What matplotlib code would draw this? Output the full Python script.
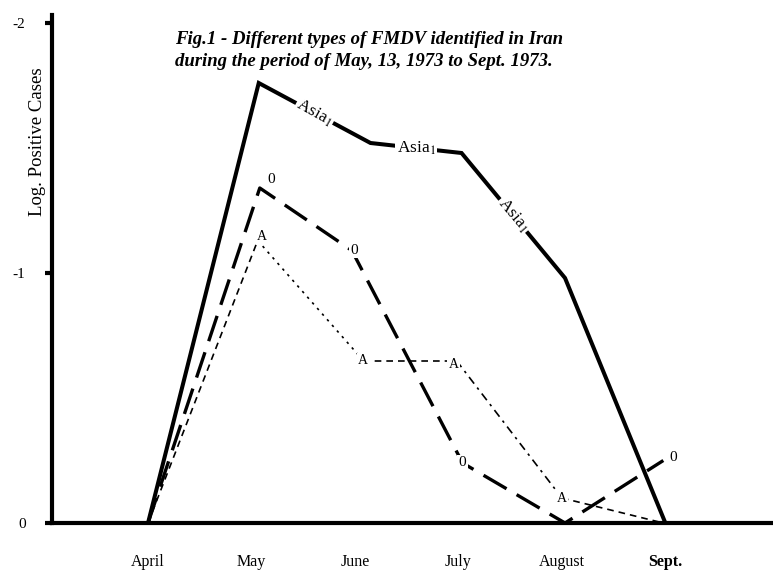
import matplotlib.pyplot as plt

plt.rcParams['font.family'] = ['Liberation Serif', 'DejaVu Serif']
plt.rcParams['mathtext.fontset'] = 'stix'
plt.rcParams['axes.unicode_minus'] = False

# months on the x axis (April = 0)
months = ['April', 'May', 'June', 'July', 'August', 'Sept.']
month_pos = [0, 1, 2, 3, 4, 5]

# Asia 1
asia_x = [0, 1.07, 2.15, 3.03, 4.03, 5.0]
asia_y = [0, -1.76, -1.52, -1.48, -0.98, 0]

# type O
o_x = [0, 1.08, 1.97, 3.04, 4.03, 4.98]
o_y = [0, -1.34, -1.09, -0.24, 0, -0.25]

# type A
a_x = [0, 1.06, 2.08, 2.98, 4.0, 4.98]
a_y = [0, -1.13, -0.65, -0.65, -0.10, 0]

fig = plt.figure(figsize=(7.73, 5.73), dpi=100)
ax = fig.add_axes([52 / 773, 50 / 573, (773 - 52) / 773, (523 - 15) / 573])

# Asia1 - thick solid
ax.plot(asia_x, asia_y, color='black', lw=2.9, solid_joinstyle='miter', zorder=3)
# O - long dashes
ax.plot(o_x, o_y, color='black', lw=2.4, dashes=(8, 3.5), zorder=3)
# A - thin, mixed dash styles per segment
a_styles = [(0, (4, 3)), (0, (1.5, 3)), (0, (4, 3)), (0, (5, 3, 1.5, 3)), (0, (4, 3))]
for i in range(len(a_x) - 1):
    ax.plot(a_x[i:i + 2], a_y[i:i + 2], color='black', lw=1.2,
            linestyle=a_styles[i], zorder=3)

box = dict(facecolor='white', edgecolor='none', pad=1)

# Asia labels in the middle of segments
asia_lbl = [(1, -29), (2, 0), (3, -50)]
for i, rot in asia_lbl:
    mx = (asia_x[i] + asia_x[i + 1]) / 2
    my = (asia_y[i] + asia_y[i + 1]) / 2
    ax.text(mx, my, 'Asia$_1$', fontsize=12.5, rotation=rot, rotation_mode='anchor',
            ha='center', va='center', bbox=box, zorder=5)

# O labels
o_lbl = [(1, 8, 6), (2, 2, 0), (3, 0, 0), (5, 7, 2)]
for i, dx, dy in o_lbl:
    ax.annotate('0', (o_x[i], o_y[i]), xytext=(dx, dy), textcoords='offset points',
                fontsize=11, ha='center', va='center', bbox=box, zorder=5)

# A labels
a_lbl = [(1, 3, 3), (2, 0, 0), (3, -2, -3), (4, 0, 0)]
for i, dx, dy in a_lbl:
    ax.annotate('A', (a_x[i], a_y[i]), xytext=(dx, dy), textcoords='offset points',
                fontsize=10, ha='center', va='center', bbox=box, zorder=5)

ax.set_xlim(-0.928, 6.04)
ax.set_ylim(0, -2.032)

for side in ['top', 'right']:
    ax.spines[side].set_visible(False)
ax.spines['left'].set_linewidth(3)
ax.spines['bottom'].set_linewidth(3)

ax.set_yticks([-2, -1, 0])
ax.set_yticklabels(['-2', '-1', '0'], fontsize=11)
ax.tick_params(axis='y', length=5, width=3, pad=14)

ax.set_xticks(month_pos)
ax.set_xticklabels(months, fontsize=11.5)
ax.get_xticklabels()[-1].set_fontweight('bold')
ax.tick_params(axis='x', length=0, pad=22)

ax.set_ylabel('Log. Positive Cases', fontsize=13.5)
ax.yaxis.set_label_coords(-0.008, 0.75)

fig.text(175 / 773, 1 - 40 / 573, 'Fig.1 - Different types of FMDV identified in Iran',
         fontsize=13.5, fontweight='bold', fontstyle='italic', va='center')
fig.text(175 / 773, 1 - 62 / 573, 'during the period of May, 13, 1973 to Sept. 1973.',
         fontsize=13.5, fontweight='bold', fontstyle='italic', va='center')

fig.savefig('out.png', dpi=100)
